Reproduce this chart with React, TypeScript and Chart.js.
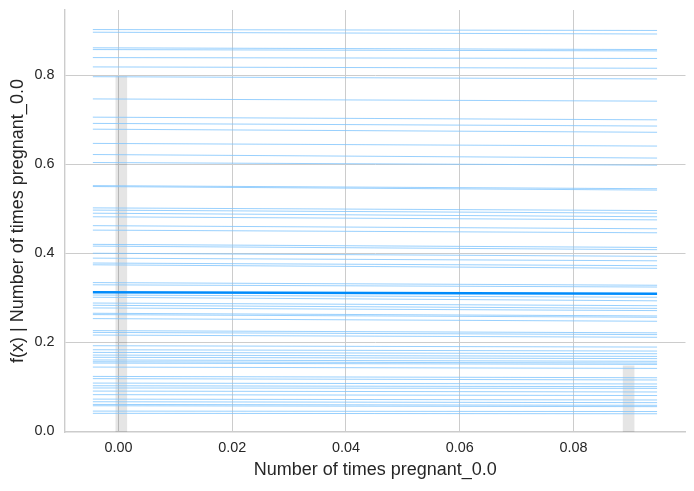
import { useEffect, useRef } from "react";
import Chart from "chart.js/auto";

// x positions where every ICE curve was evaluated (left and right end)
const iceX = [-0.0045, 0.0947];

// ICE curves, value at left end / right end (one entry per sample)
const iceStart = [
  0.903, 0.897, 0.862, 0.858, 0.84, 0.819, 0.797, 0.747, 0.706, 0.692, 0.679,
  0.647, 0.622, 0.604, 0.552, 0.55, 0.502, 0.497, 0.49, 0.482, 0.462, 0.452,
  0.42, 0.416, 0.4, 0.389, 0.378, 0.374, 0.334, 0.329, 0.306, 0.301, 0.288,
  0.283, 0.277, 0.265, 0.262, 0.253, 0.226, 0.222, 0.216, 0.192, 0.183, 0.177,
  0.171, 0.166, 0.16, 0.156, 0.153, 0.144, 0.123, 0.118, 0.108, 0.102, 0.097,
  0.09, 0.082, 0.072, 0.066, 0.06, 0.057, 0.045, 0.04,
];
const iceEnd = [
  0.901, 0.893, 0.858, 0.855, 0.838, 0.816, 0.792, 0.742, 0.7, 0.686, 0.672,
  0.641, 0.614, 0.598, 0.545, 0.542, 0.496, 0.49, 0.482, 0.475, 0.455, 0.446,
  0.413, 0.408, 0.393, 0.383, 0.372, 0.366, 0.328, 0.324, 0.301, 0.293, 0.282,
  0.276, 0.271, 0.259, 0.256, 0.247, 0.221, 0.217, 0.211, 0.189, 0.18, 0.174,
  0.168, 0.163, 0.157, 0.153, 0.15, 0.141, 0.12, 0.115, 0.106, 0.1, 0.096,
  0.088, 0.08, 0.07, 0.064, 0.058, 0.055, 0.044, 0.039,
];

// average curve
const meanStart = 0.3123;
const meanEnd = 0.3088;

// feature distribution (fraction of samples per bin)
const histX = [0.0005, 0.0897];
const histFrac = [0.843, 0.157];

const xTicks = [0, 0.02, 0.04, 0.06, 0.08];
const yTicks = [0, 0.2, 0.4, 0.6, 0.8];

const FEATURE = "Number of times pregnant_0.0";
const GRID = "#cccccc";
const TEXT = "#262626";
const FONT = "'Liberation Sans', Arial, sans-serif";

export default function App() {
  const ref = useRef<HTMLCanvasElement | null>(null);

  useEffect(() => {
    if (!ref.current) return;
    const ctx = ref.current.getContext("2d");
    if (!ctx) return;

    const chart = new Chart(ctx, {
      type: "line",
      data: {
        datasets: [
          {
            type: "line",
            data: [
              { x: iceX[0], y: meanStart },
              { x: iceX[1], y: meanEnd },
            ],
            borderColor: "rgb(0,139,251)",
            borderWidth: 2.5,
            pointRadius: 0,
            order: 0,
          },
          ...iceStart.map((s, i) => ({
            type: "line" as const,
            data: [
              { x: iceX[0], y: s },
              { x: iceX[1], y: iceEnd[i] },
            ],
            borderColor: "rgba(127,196,252,0.8)",
            borderWidth: 1,
            pointRadius: 0,
            order: 1,
          })),
          {
            type: "bar",
            data: histX.map((x, i) => ({ x, y: histFrac[i] })),
            backgroundColor: "rgba(0,0,0,0.1)",
            borderWidth: 0,
            barThickness: 11,
            grouped: false,
            yAxisID: "y2",
            order: 2,
          },
        ],
      },
      options: {
        animation: false,
        responsive: true,
        maintainAspectRatio: false,
        layout: { padding: { left: 0, top: 10, right: 8.5, bottom: 0 } },
        plugins: { legend: { display: false }, tooltip: { enabled: false } },
        scales: {
          x: {
            type: "linear",
            min: -0.0094,
            max: 0.0997,
            offset: false,
            afterFit: (s: any) => {
              s.height = 59;
              s.paddingLeft = 0;
              s.paddingRight = 0;
            },
            afterBuildTicks: (s: any) => {
              s.ticks = xTicks.map((v) => ({ value: v }));
            },
            grid: { color: GRID, lineWidth: 1, drawTicks: false, offset: false },
            border: { display: true, color: GRID, width: 1.4 },
            ticks: {
              color: TEXT,
              padding: 7,
              font: { family: FONT, size: 14.4 },
              maxRotation: 0,
              callback: (v: any) => Number(v).toFixed(2),
            },
            title: {
              display: true,
              text: FEATURE,
              color: TEXT,
              font: { family: FONT, size: 18 },
              padding: { top: 0, bottom: 10 },
            },
          },
          y: {
            type: "linear",
            min: -0.002,
            max: 0.947,
            afterFit: (s: any) => {
              s.width = 65;
              s.paddingTop = 0;
              s.paddingBottom = 0;
            },
            afterBuildTicks: (s: any) => {
              s.ticks = yTicks.map((v) => ({ value: v }));
            },
            grid: { color: GRID, lineWidth: 1, drawTicks: false },
            border: { display: true, color: GRID, width: 1.4 },
            ticks: {
              color: TEXT,
              padding: 10.5,
              font: { family: FONT, size: 14.4 },
              callback: (v: any) => Number(v).toFixed(1),
            },
            title: {
              display: true,
              text: "f(x) | " + FEATURE,
              color: TEXT,
              font: { family: FONT, size: 18 },
              padding: { top: 7.2, bottom: 0 },
            },
          },
          y2: {
            type: "linear",
            display: false,
            min: 0,
            max: 1,
          },
        },
      },
    });

    return () => {
      chart.destroy();
    };
  }, []);

  return (
    <div
      style={{
        position: "fixed",
        left: 0,
        top: 0,
        width: 694,
        height: 491,
        background: "#ffffff",
      }}
    >
      <canvas ref={ref} />
    </div>
  );
}
